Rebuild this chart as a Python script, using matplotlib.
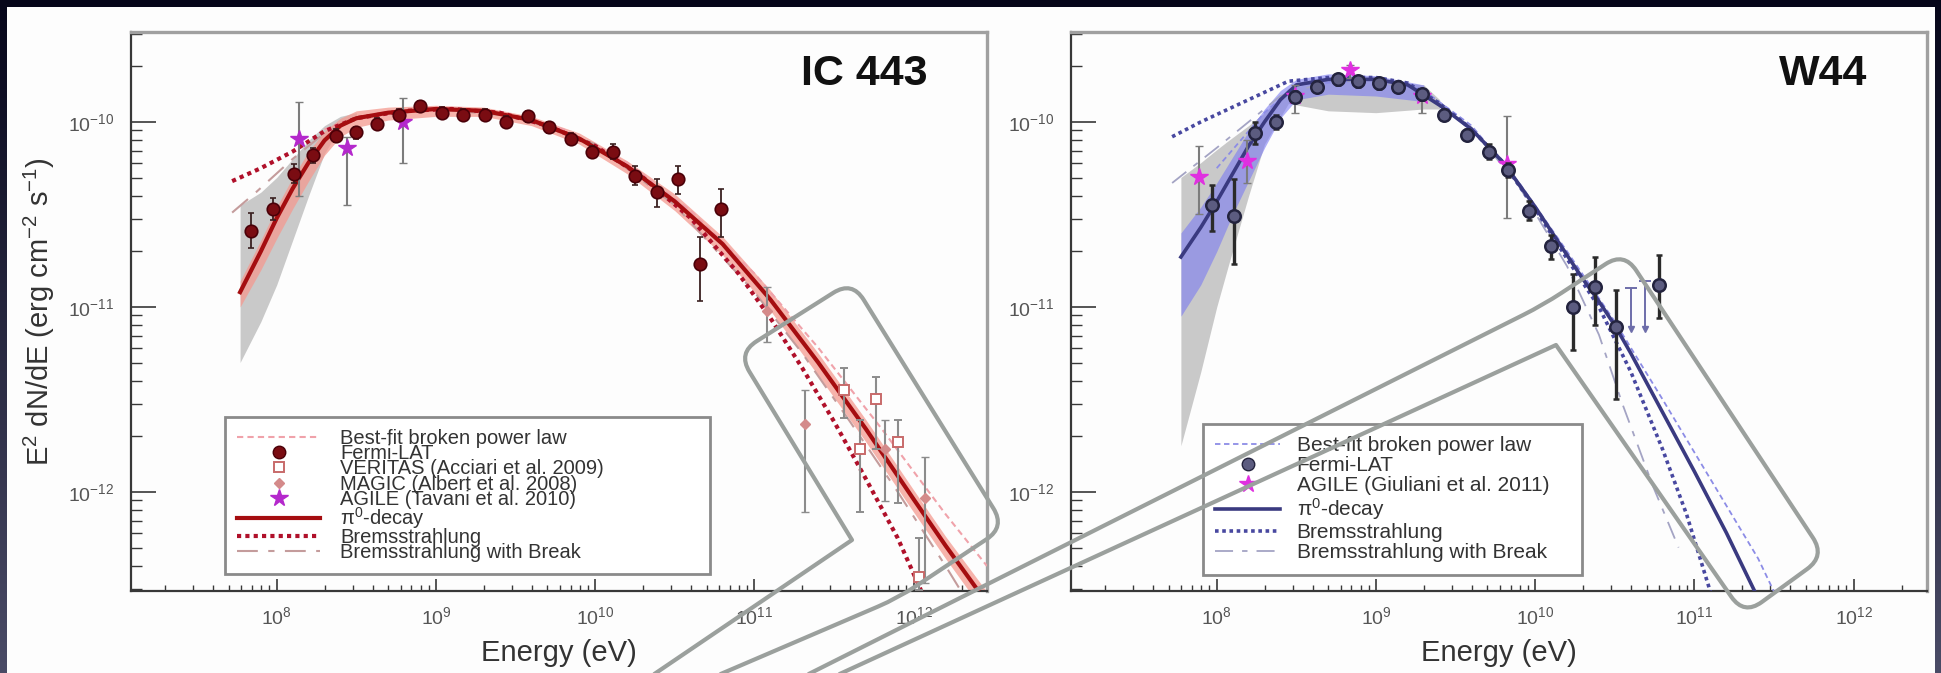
import numpy as np
import matplotlib.pyplot as plt
from matplotlib.colors import LinearSegmentedColormap
from matplotlib.lines import Line2D
from matplotlib.patches import PathPatch, Rectangle
from matplotlib.path import Path
from matplotlib.ticker import FixedLocator, LogLocator, NullFormatter

plt.rcParams["font.family"] = ["Liberation Sans", "DejaVu Sans"]
plt.rcParams["mathtext.fontset"] = "custom"
plt.rcParams["mathtext.rm"] = "Liberation Sans"
plt.rcParams["mathtext.it"] = "Liberation Sans:italic"
plt.rcParams["mathtext.bf"] = "Liberation Sans:bold"

# all values as log10(E / eV) and log10(E^2 dN/dE / erg cm^-2 s^-1)
x_ticks = [1e8, 1e9, 1e10, 1e11, 1e12]
y_ticks = [1e-12, 1e-11, 1e-10]

# ---------------- IC 443 ----------------
ic_fermi_x = [7.84, 7.975, 8.11, 8.23, 8.37, 8.50, 8.63, 8.77, 8.90, 9.035, 9.17, 9.305,
              9.44, 9.58, 9.71, 9.85, 9.98, 10.11, 10.25, 10.39, 10.52, 10.66, 10.79]
ic_fermi_y = [-10.59, -10.47, -10.28, -10.18, -10.075, -10.057, -10.01, -9.96, -9.915, -9.95, -9.96, -9.96,
              -10.0, -9.97, -10.03, -10.09, -10.16, -10.16, -10.29, -10.38, -10.31, -10.77, -10.47]
ic_fermi_lo = [-10.68, -10.53, -10.33, -10.22, -10.11, -10.09, -10.04, -9.99, -9.945, -9.98, -9.99, -9.99,
               -10.03, -10.0, -10.06, -10.12, -10.19, -10.20, -10.34, -10.46, -10.39, -10.97, -10.62]
ic_fermi_hi = [-10.49, -10.41, -10.23, -10.14, -10.04, -10.025, -9.98, -9.93, -9.885, -9.92, -9.93, -9.93,
               -9.97, -9.94, -10.0, -10.06, -10.13, -10.12, -10.24, -10.31, -10.24, -10.62, -10.36]

ic_veritas_x = [11.56, 11.66, 11.76, 11.90, 12.03]
ic_veritas_y = [-11.45, -11.77, -11.50, -11.73, -12.46]
ic_veritas_lo = [-11.60, -12.11, -11.77, -12.06, -12.53]
ic_veritas_hi = [-11.33, -11.61, -11.38, -11.61, -12.25]

ic_magic_x = [11.08, 11.32, 11.82, 12.07]
ic_magic_y = [-11.02, -11.63, -11.77, -12.03]
ic_magic_lo = [-11.19, -12.11, -12.05, -12.49]
ic_magic_hi = [-10.89, -11.45, -11.61, -11.81]

ic_agile_x = [8.14, 8.44, 8.79]
ic_agile_y = [-10.09, -10.14, -10.0]
ic_agile_lo = [-10.40, -10.45, -10.22]
ic_agile_hi = [-9.89, -10.08, -9.87]

ic_pi0_x = [7.77, 7.9, 8.0, 8.1, 8.2, 8.3, 8.4, 8.5, 8.7, 9.0, 9.3, 9.6, 9.9, 10.2, 10.5,
            10.8, 11.1, 11.4, 11.7, 12.0, 12.2, 12.46]
ic_pi0_y = [-10.92, -10.70, -10.52, -10.36, -10.22, -10.10, -10.02, -9.98, -9.95, -9.93, -9.94, -9.99,
            -10.09, -10.24, -10.43, -10.66, -10.96, -11.30, -11.66, -12.04, -12.29, -12.60]
ic_pi0_hi = [-10.86, -10.64, -10.46, -10.30, -10.16, -10.05, -9.98, -9.94, -9.92, -9.91, -9.92, -9.97,
             -10.06, -10.21, -10.39, -10.62, -10.91, -11.25, -11.61, -11.99, -12.24, -12.54]
ic_pi0_lo = [-11.00, -10.80, -10.63, -10.47, -10.32, -10.18, -10.08, -10.03, -9.99, -9.97, -9.97, -10.02,
             -10.12, -10.28, -10.48, -10.72, -11.02, -11.37, -11.73, -12.11, -12.36, -12.67]

ic_brem_x = [7.72, 7.9, 8.1, 8.3, 8.5, 8.8, 9.1, 9.4, 9.7, 10.0, 10.3, 10.6, 10.9, 11.1,
             11.3, 11.5, 11.7, 11.9, 12.05]
ic_brem_y = [-10.32, -10.25, -10.16, -10.05, -9.98, -9.94, -9.93, -9.95, -10.02, -10.13, -10.30, -10.52,
             -10.82, -11.06, -11.33, -11.62, -11.93, -12.25, -12.54]

ic_bpl_x = [8.3, 8.6, 9.0, 9.4, 9.8, 10.2, 10.6, 11.0, 11.4, 11.8, 12.2, 12.46]
ic_bpl_y = [-10.04, -9.96, -9.92, -9.95, -10.04, -10.22, -10.48, -10.82, -11.22, -11.66, -12.12, -12.40]

ic_brk_x = [7.72, 7.87, 8.1, 8.3, 8.5, 9.0, 9.5, 10.0, 10.5, 11.0, 11.3, 11.6, 11.9, 12.2, 12.3]
ic_brk_y = [-10.49, -10.38, -10.20, -10.06, -9.98, -9.93, -9.97, -10.12, -10.45, -10.92, -11.25,
            -11.62, -12.0, -12.4, -12.54]

ic_gray_x = [7.77, 7.9, 8.0, 8.1, 8.2, 8.3, 8.4, 8.5]
ic_gray_hi = [-10.45, -10.38, -10.30, -10.20, -10.10, -10.02, -9.97, -9.95]
ic_gray_lo = [-11.30, -11.08, -10.88, -10.64, -10.40, -10.17, -10.03, -9.98]

# ---------------- W44 ----------------
w44_fermi_x = [7.97, 8.11, 8.24, 8.37, 8.49, 8.63, 8.76, 8.89, 9.02, 9.14, 9.29, 9.43, 9.57,
               9.71, 9.83, 9.96, 10.10, 10.24, 10.375, 10.51, 10.78]
w44_fermi_y = [-10.45, -10.51, -10.06, -10.0, -9.865, -9.81, -9.77, -9.78, -9.79, -9.81, -9.85, -9.96,
               -10.07, -10.16, -10.26, -10.48, -10.67, -11.0, -10.89, -11.11, -10.88]
w44_fermi_lo = [-10.59, -10.77, -10.12, -10.04, -9.895, -9.84, -9.80, -9.81, -9.82, -9.84, -9.88, -9.99,
                -10.10, -10.20, -10.30, -10.53, -10.74, -11.23, -11.10, -11.50, -11.06]
w44_fermi_hi = [-10.34, -10.31, -10.00, -9.96, -9.835, -9.78, -9.74, -9.75, -9.76, -9.78, -9.82, -9.93,
                -10.04, -10.12, -10.22, -10.43, -10.61, -10.82, -10.73, -10.91, -10.72]

w44_ul_x = [10.60, 10.69]
w44_ul_top = [-10.90, -10.86]
w44_ul_bot = [-11.12, -11.12]

w44_agile_x = [7.89, 8.19, 8.49, 8.84, 9.29, 9.82]
w44_agile_y = [-10.30, -10.21, -9.86, -9.72, -9.86, -10.23]
w44_agile_lo = [-10.50, -10.33, -9.95, -9.76, -9.95, -10.52]
w44_agile_hi = [-10.13, -10.10, -9.80, -9.69, -9.82, -9.97]

w44_pi0_x = [7.775, 7.9, 8.0, 8.1, 8.2, 8.3, 8.4, 8.5, 8.7, 9.0, 9.2, 9.4, 9.6, 9.8, 9.9, 10.0,
             10.1, 10.2, 10.3, 10.4, 10.5, 10.6, 10.8, 11.0, 11.2, 11.38]
w44_pi0_y = [-10.73, -10.57, -10.43, -10.28, -10.13, -10.00, -9.88, -9.80, -9.77, -9.77, -9.80, -9.91,
             -10.04, -10.22, -10.34, -10.46, -10.59, -10.72, -10.85, -10.97, -11.10, -11.25, -11.57,
             -11.89, -12.22, -12.54]

w44_brem_x = [7.72, 7.9, 8.1, 8.3, 8.45, 8.7, 9.0, 9.2, 9.4, 9.6, 9.8, 10.0, 10.2, 10.4, 10.6,
              10.8, 10.95, 11.1]
w44_brem_y = [-10.08, -10.0, -9.92, -9.84, -9.78, -9.76, -9.76, -9.79, -9.90, -10.04, -10.22, -10.47,
              -10.74, -11.0, -11.35, -11.77, -12.12, -12.54]

w44_bpl_x = [8.0, 8.3, 8.5, 9.0, 9.3, 9.6, 9.9, 10.2, 10.5, 10.8, 11.1, 11.4, 11.5]
w44_bpl_y = [-10.25, -9.95, -9.80, -9.77, -9.83, -10.02, -10.33, -10.70, -11.08, -11.50, -11.93,
             -12.36, -12.54]

w44_brk_x = [7.72, 8.0, 8.2, 8.4, 8.7, 9.0, 9.3, 9.6, 9.9, 10.2, 10.4, 10.55, 10.74, 10.9]
w44_brk_y = [-10.33, -10.14, -10.0, -9.86, -9.78, -9.78, -9.84, -10.03, -10.35, -10.78, -11.15,
             -11.53, -11.97, -12.3]

w44_gray_x = [7.775, 7.9, 8.0, 8.075, 8.2, 8.3, 8.45, 8.7, 9.0, 9.3, 9.4]
w44_gray_hi = [-10.30, -10.22, -10.15, -10.10, -10.02, -9.95, -9.82, -9.77, -9.77, -9.80, -9.88]
w44_gray_lo = [-11.75, -11.35, -11.00, -10.77, -10.40, -10.12, -9.90, -9.94, -9.95, -9.93, -9.93]

w44_blue_x = [7.775, 7.9, 8.0, 8.1, 8.2, 8.3, 8.4, 8.5, 8.7, 9.0, 9.3]
w44_blue_hi = [-10.60, -10.46, -10.33, -10.19, -10.05, -9.93, -9.83, -9.77, -9.74, -9.75, -9.80]
w44_blue_lo = [-11.05, -10.88, -10.70, -10.50, -10.32, -10.14, -9.98, -9.88, -9.85, -9.86, -9.89]

ic_labels = ["Best-fit broken power law", "Fermi-LAT", "VERITAS (Acciari et al. 2009)",
             "MAGIC (Albert et al. 2008)", "AGILE (Tavani et al. 2010)", "π$^{0}$-decay",
             "Bremsstrahlung", "Bremsstrahlung with Break"]
w44_labels = ["Best-fit broken power law", "Fermi-LAT", "AGILE (Giuliani et al. 2011)",
              "π$^{0}$-decay", "Bremsstrahlung", "Bremsstrahlung with Break"]


def p(v):
    return np.power(10.0, np.asarray(v, dtype=float))


def errbar(ax, x, y, lo, hi, **kw):
    yy = p(y)
    return ax.errorbar(p(x), yy, yerr=[yy - p(lo), p(hi) - yy], **kw)


W, H = 1941, 673
fig = plt.figure(figsize=(W / 100, H / 100), dpi=100)

# navy frame with a soft gradient, white slide area
bg = fig.add_axes([0, 0, 1, 1], zorder=-1)
bg.imshow(np.linspace(0, 1, 256)[:, None], aspect="auto", extent=[0, 1, 0, 1], origin="upper",
          cmap=LinearSegmentedColormap.from_list("bg", ["#06061a", "#4a4b66"]))
bg.add_patch(Rectangle((7 / W, 0), (1935 - 7) / W, 1 - 7 / H, transform=bg.transAxes,
                       facecolor="#fdfdfd", edgecolor="none"))
bg.set_xlim(0, 1)
bg.set_ylim(0, 1)
bg.axis("off")

ax1 = fig.add_axes([131 / W, 1 - 591 / H, 856 / W, 559 / H])
ax2 = fig.add_axes([1071 / W, 1 - 591 / H, 856 / W, 559 / H])


def style_axes(ax, title):
    ax.set_xscale("log")
    ax.set_yscale("log")
    ax.set_xlim(10 ** 7.085, 10 ** 12.46)
    ax.set_ylim(10 ** -12.535, 10 ** -9.514)
    ax.set_facecolor("none")
    for s in ["left", "bottom"]:
        ax.spines[s].set_color("#383838")
        ax.spines[s].set_linewidth(1.6)
    for s in ["top", "right"]:
        ax.spines[s].set_color("#a0a0a0")
        ax.spines[s].set_linewidth(2.4)
    ax.xaxis.set_major_locator(FixedLocator(x_ticks))
    ax.yaxis.set_major_locator(FixedLocator(y_ticks))
    for axis in (ax.xaxis, ax.yaxis):
        axis.set_minor_locator(LogLocator(base=10, subs=np.arange(2, 10), numticks=12))
        axis.set_minor_formatter(NullFormatter())
    ax.tick_params(which="both", direction="in", top=False, right=False, colors="#383838",
                   labelcolor="#555555", labelsize=14)
    ax.tick_params(axis="y", which="major", length=18, width=1.2, pad=12)
    ax.tick_params(axis="y", which="minor", length=8, width=1.0)
    ax.tick_params(axis="x", which="major", length=9, width=1.2, pad=11)
    ax.tick_params(axis="x", which="minor", length=4, width=1.0)
    ax.set_xlabel("Energy (eV)", fontsize=21, color="#333333", labelpad=8)
    ax.text(0.93, 0.925, title, transform=ax.transAxes, ha="right", va="center",
            fontsize=31, fontweight="bold", color="#111111")


style_axes(ax1, "IC 443")
style_axes(ax2, "W44")
ax1.set_ylabel("E$^{2}$ dN/dE (erg cm$^{-2}$ s$^{-1}$)", fontsize=21, color="#333333", labelpad=8)

# ---- IC 443 panel ----
ax1.fill_between(p(ic_gray_x), p(ic_gray_lo), p(ic_gray_hi), color="#c9c9c9", lw=0, zorder=1)
ax1.fill_between(p(ic_pi0_x), p(ic_pi0_lo), p(ic_pi0_hi), color="#f49a90", alpha=0.75, lw=0, zorder=2)
ax1.plot(p(ic_bpl_x), p(ic_bpl_y), color="#f0a2aa", lw=1.5, ls=(0, (3, 2)), zorder=3)
ax1.plot(p(ic_brk_x), p(ic_brk_y), color="#c49c9c", lw=1.5, ls=(0, (10, 5, 3, 5)), zorder=3)
ax1.plot(p(ic_brem_x), p(ic_brem_y), color="#b0102a", lw=3, ls=(0, (1, 1)), zorder=4)
ax1.plot(p(ic_pi0_x), p(ic_pi0_y), color="#a50d10", lw=3, zorder=5)
errbar(ax1, ic_magic_x, ic_magic_y, ic_magic_lo, ic_magic_hi, fmt="D", ms=5, color="#d48a8a",
       ecolor="#8c8c8c", elinewidth=1.5, capsize=3, zorder=6)
errbar(ax1, ic_veritas_x, ic_veritas_y, ic_veritas_lo, ic_veritas_hi, fmt="s", ms=7, mfc="white",
       mec="#c86a6a", mew=1.4, ecolor="#8c8c8c", elinewidth=1.5, capsize=3, zorder=6)
errbar(ax1, ic_agile_x, ic_agile_y, ic_agile_lo, ic_agile_hi, fmt="*", ms=13, color="#b428cc",
       ecolor="#7c7c7c", elinewidth=1.5, capsize=3, zorder=7)
errbar(ax1, ic_fermi_x, ic_fermi_y, ic_fermi_lo, ic_fermi_hi, fmt="o", ms=9, mfc="#7a0c12",
       mec="#4a0008", mew=1.2, ecolor="#3a2020", elinewidth=1.3, capsize=2, zorder=8)

h1 = [Line2D([], [], color="#f0a2aa", lw=1.5, ls=(0, (3, 2))),
      Line2D([], [], ls="none", marker="o", ms=9, mfc="#7a0c12", mec="#4a0008"),
      Line2D([], [], ls="none", marker="s", ms=7, mfc="white", mec="#c86a6a", mew=1.4),
      Line2D([], [], ls="none", marker="D", ms=5, color="#d48a8a"),
      Line2D([], [], ls="none", marker="*", ms=13, color="#b428cc"),
      Line2D([], [], color="#a50d10", lw=3),
      Line2D([], [], color="#b0102a", lw=3, ls=(0, (1, 1))),
      Line2D([], [], color="#c49c9c", lw=1.5, ls=(0, (10, 5, 3, 5)))]
leg1 = ax1.legend(h1, ic_labels, loc="lower left", bbox_to_anchor=(0.110, 0.030, 0.566, 0.276),
                  mode="expand", borderaxespad=0, fontsize=14.5, labelspacing=-0.18, handlelength=4.1,
                  handletextpad=1.0, borderpad=0.6, fancybox=False, edgecolor="#8a8a8a",
                  framealpha=1, labelcolor="#333333")
leg1.get_frame().set_linewidth(2)

# ---- W44 panel ----
ax2.fill_between(p(w44_gray_x), p(w44_gray_lo), p(w44_gray_hi), color="#c9c9c9", lw=0, zorder=1)
ax2.fill_between(p(w44_blue_x), p(w44_blue_lo), p(w44_blue_hi), color="#7b7bf2", alpha=0.6, lw=0, zorder=2)
ax2.plot(p(w44_bpl_x), p(w44_bpl_y), color="#8c8ce6", lw=1.3, ls=(0, (3, 2)), zorder=3)
ax2.plot(p(w44_brk_x), p(w44_brk_y), color="#a4a4c4", lw=1.3, ls=(0, (10, 5, 3, 5)), zorder=3)
ax2.plot(p(w44_brem_x), p(w44_brem_y), color="#4848a0", lw=2.6, ls=(0, (1, 1)), zorder=4)
ax2.plot(p(w44_pi0_x), p(w44_pi0_y), color="#3a3a80", lw=2.6, zorder=5)
errbar(ax2, w44_agile_x, w44_agile_y, w44_agile_lo, w44_agile_hi, fmt="*", ms=13, color="#e030e0",
       ecolor="#7c7c7c", elinewidth=1.5, capsize=3, zorder=6)
ax2.vlines(p(w44_ul_x), p(w44_ul_bot), p(w44_ul_top), color="#6e6eaa", lw=1.4, zorder=6)
ax2.plot(p(w44_ul_x), p(w44_ul_bot), "v", ms=5, color="#6e6eaa", zorder=6)
ax2.plot(p(w44_ul_x), p(w44_ul_top), "_", ms=8, mew=1.4, color="#6e6eaa", zorder=6)
errbar(ax2, w44_fermi_x, w44_fermi_y, w44_fermi_lo, w44_fermi_hi, fmt="o", ms=9, mfc="#5c5c80",
       mec="#23233e", mew=1.8, ecolor="#2a2a2a", elinewidth=2.4, capsize=2, zorder=8)

h2 = [Line2D([], [], color="#8c8ce6", lw=1.3, ls=(0, (3, 2))),
      Line2D([], [], ls="none", marker="o", ms=9, mfc="#5c5c80", mec="#23233e"),
      Line2D([], [], ls="none", marker="*", ms=13, color="#e030e0"),
      Line2D([], [], color="#3a3a80", lw=2.6),
      Line2D([], [], color="#4848a0", lw=2.6, ls=(0, (1, 1))),
      Line2D([], [], color="#a4a4c4", lw=1.3, ls=(0, (10, 5, 3, 5)))]
leg2 = ax2.legend(h2, w44_labels, loc="lower left", bbox_to_anchor=(0.154, 0.029, 0.443, 0.273),
                  mode="expand", borderaxespad=0, fontsize=15, labelspacing=0.05, handlelength=3.1,
                  handletextpad=0.8, borderpad=0.6, fancybox=False, edgecolor="#8a8a8a",
                  framealpha=1, labelcolor="#333333")
leg2.get_frame().set_linewidth(2)


# ---- gray call-out outlines drawn over the slide (pixel coords from top-left) ----
def callout(pts, rounded, r=22):
    verts, codes = [], []
    for i, pt in enumerate(pts):
        pt = np.array(pt, dtype=float)
        if i in rounded:
            a = np.array(pts[i - 1], dtype=float)
            b = np.array(pts[i + 1], dtype=float)
            u = (a - pt) / np.linalg.norm(a - pt)
            v = (b - pt) / np.linalg.norm(b - pt)
            verts += [pt + r * u, pt, pt + r * v]
            codes += [Path.LINETO, Path.CURVE3, Path.CURVE3]
        else:
            verts.append(pt)
            codes.append(Path.MOVETO if i == 0 else Path.LINETO)
    verts = [(x / W, 1 - y / H) for x, y in verts]
    fig.add_artist(PathPatch(Path(verts, codes), transform=fig.transFigure, fill=False,
                             edgecolor="#9ba09d", lw=3, joinstyle="round", capstyle="round",
                             zorder=10))


callout([(616, 700), (852, 540), (738, 353), (852, 281), (1005, 527), (898, 598), (660, 700)],
        rounded=[2, 3, 4, 5])
callout([(757, 700), (1543, 305), (1624, 252), (1825, 556), (1744, 615), (1556, 345), (783, 700)],
        rounded=[1, 2, 3, 4])

fig.savefig("out.png", dpi=100)
